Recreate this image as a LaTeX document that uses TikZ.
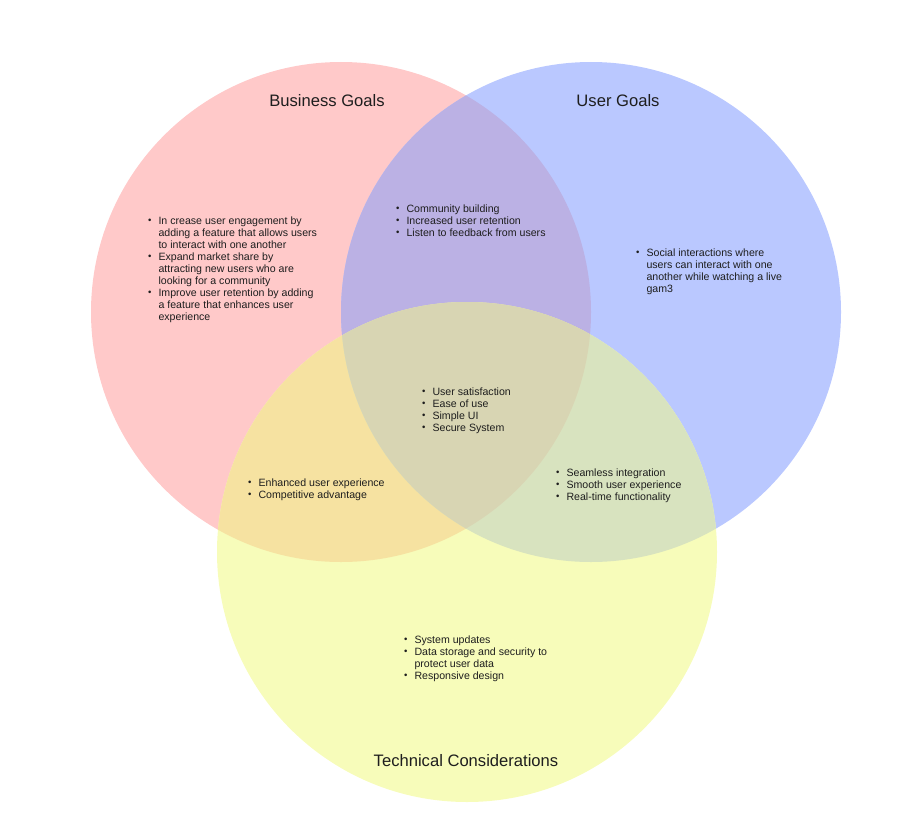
\documentclass[tikz,border=0pt]{standalone}
\usepackage{fontspec}
\setmainfont{Liberation Sans}
\usetikzlibrary{positioning}

\definecolor{bizred}{HTML}{FFC9C9}
\definecolor{usrblue}{HTML}{BAC8FF}
\definecolor{tecyel}{HTML}{F7FCBA}
\definecolor{bizusr}{HTML}{BBB1E4}
\definecolor{biztec}{HTML}{F6E2A1}
\definecolor{usrtec}{HTML}{D8E3BF}
\definecolor{alltri}{HTML}{D8D5B3}
\definecolor{ink}{HTML}{1E1E1E}

\newcommand\blt{\raisebox{0.15ex}{\scalebox{0.9}{\textbullet}}}

\begin{document}
\begin{tikzpicture}[x=1pt,y=-1pt]
\tikzstyle{every node}=[inner sep=0pt,text=ink,font=\fontsize{10.6}{12}\selectfont]
\tikzstyle{title}=[font=\fontsize{16.6}{20}\selectfont]
\tikzstyle{notes}=[anchor=north west,align=left]
\def \rad {250}
\useasboundingbox (0,0) rectangle (902,832);
\coordinate (biz) at (341,312);
\coordinate (usr) at (591,312);
\coordinate (tec) at (467,552);
% the three sets
\fill[bizred]  (biz) circle (\rad);
\fill[usrblue] (usr) circle (\rad);
\fill[tecyel]  (tec) circle (\rad);
% overlaps
\begin{scope}
  \clip (biz) circle (\rad);
  \fill[bizusr] (usr) circle (\rad);
  \fill[biztec] (tec) circle (\rad);
\end{scope}
\begin{scope}
  \clip (usr) circle (\rad);
  \fill[usrtec] (tec) circle (\rad);
  \clip (biz) circle (\rad);
  \fill[alltri] (tec) circle (\rad);
\end{scope}

\node[title] (bizlbl) at (327,101) {Business Goals};
\node[title] (usrlbl) at (618,101) {User Goals};
\node[title] (teclbl) at (466,761) {Technical Considerations};

\node[notes] (biznotes) at (148,216) {\begin{tabular}{@{}l@{\hspace{7pt}}l@{}}
  \blt & In crease user engagement by\\
       & adding a feature that allows users\\
       & to interact with one another\\
  \blt & Expand market share by\\
       & attracting new users who are\\
       & looking for a community\\
  \blt & Improve user retention by adding\\
       & a feature that enhances user\\
       & experience
\end{tabular}};
\node[notes] (bunotes) at (396,204) {\begin{tabular}{@{}l@{\hspace{7pt}}l@{}}
  \blt & Community building\\
  \blt & Increased user retention\\
  \blt & Listen to feedback from users
\end{tabular}};
\node[notes] (usrnotes) at (636,248) {\begin{tabular}{@{}l@{\hspace{7pt}}l@{}}
  \blt & Social interactions where\\
       & users can interact with one\\
       & another while watching a live\\
       & gam3
\end{tabular}};
\node[notes] (allnotes) at (422,387) {\begin{tabular}{@{}l@{\hspace{7pt}}l@{}}
  \blt & User satisfaction\\
  \blt & Ease of use\\
  \blt & Simple UI\\
  \blt & Secure System
\end{tabular}};
\node[notes] (btnotes) at (248,478) {\begin{tabular}{@{}l@{\hspace{7pt}}l@{}}
  \blt & Enhanced user experience\\
  \blt & Competitive advantage
\end{tabular}};
\node[notes] (utnotes) at (556,468) {\begin{tabular}{@{}l@{\hspace{7pt}}l@{}}
  \blt & Seamless integration\\
  \blt & Smooth user experience\\
  \blt & Real-time functionality
\end{tabular}};
\node[notes] (tecnotes) at (404,635) {\begin{tabular}{@{}l@{\hspace{7pt}}l@{}}
  \blt & System updates\\
  \blt & Data storage and security to\\
       & protect user data\\
  \blt & Responsive design
\end{tabular}};
\end{tikzpicture}
\end{document}
